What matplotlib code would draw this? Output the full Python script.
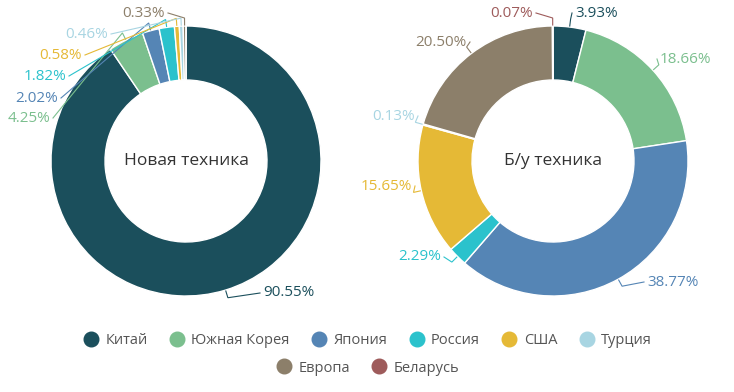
import numpy as np
import matplotlib.pyplot as plt
from matplotlib.lines import Line2D

plt.rcParams['font.family'] = ['Open Sans', 'DejaVu Sans']

countries = ["Китай", "Южная Корея", "Япония", "Россия", "США", "Турция", "Европа", "Беларусь"]
colors = ["#1b4f5c", "#7bbf8e", "#5585b5", "#2bc2cc", "#e5b936", "#a8d5e2", "#8c7f6a", "#9e5b5b"]
new_share = [90.55, 4.25, 2.02, 1.82, 0.58, 0.46, 0.33, 0.0]
used_share = [3.93, 18.66, 38.77, 2.29, 15.65, 0.13, 20.50, 0.07]
titles = ["Новая техника", "Б/у техника"]

W, H = 734, 392
fig = plt.figure(figsize=(W / 100, H / 100), dpi=100)
ax = fig.add_axes([0, 0, 1, 1])

# layout: pie centres, radii and label anchors (pixel coords, y from top)
centers = [(186, 161), (553, 161)]
r_out, r_in = 135, 81
label_pos = [
    [(263, 293, 'left'), (50, 118, 'right'), (58, 98, 'right'), (66, 76, 'right'),
     (82, 55, 'right'), (108, 34, 'right'), (165, 13, 'right'), None],
    [(575, 13, 'left'), (660, 59, 'left'), (647, 282, 'left'), (441, 257, 'right'),
     (412, 186, 'right'), (415, 116, 'right'), (467, 42, 'right'), (533, 13, 'right')],
]

for k, vals in enumerate([new_share, used_share]):
    cx, cy = centers[k]
    cy = H - cy
    ax.pie(vals, colors=colors, startangle=90, counterclock=False,
           center=(cx, cy), radius=r_out, normalize=True,
           wedgeprops=dict(width=r_out - r_in, edgecolor='white', linewidth=1))
    ax.text(cx, cy, titles[k], ha='center', va='center', fontsize=12.5, color='#333333')
    total = sum(vals)
    cum = 0.0
    for i, v in enumerate(vals):
        mid = (cum + v / 2) / total * 360
        cum += v
        if v <= 0 or label_pos[k][i] is None:
            continue
        lx, ly, ha = label_pos[k][i]
        ly = H - ly
        a = np.deg2rad(90 - mid)
        x0, y0 = cx + (r_out + 1) * np.cos(a), cy + (r_out + 1) * np.sin(a)
        x1, y1 = cx + (r_out + 8) * np.cos(a), cy + (r_out + 8) * np.sin(a)
        ex = lx - 3 if ha == 'left' else lx + 3
        ax.plot([x0, x1, ex], [y0, y1, ly], color=colors[i], lw=0.8,
                solid_joinstyle='miter')
        ax.text(lx, ly, f"{v:.2f}%", ha=ha, va='center', fontsize=11, color=colors[i])

ax.set_xlim(0, W)
ax.set_ylim(0, H)
ax.set_aspect('equal')
ax.axis('off')

handles = [Line2D([], [], marker='o', ls='', markersize=10.5, color=c) for c in colors]
fig.legend(handles[:6], countries[:6], loc='center', bbox_to_anchor=(0.5, 1 - 341 / H),
           ncol=6, frameon=False, fontsize=10.5, handletextpad=0.4, handlelength=1.2,
           columnspacing=1.4, labelcolor='#555555')
fig.legend(handles[6:], countries[6:], loc='center', bbox_to_anchor=(0.5, 1 - 368 / H),
           ncol=2, frameon=False, fontsize=10.5, handletextpad=0.4, handlelength=1.2,
           columnspacing=1.4, labelcolor='#555555')

fig.savefig("out.png", dpi=100)
